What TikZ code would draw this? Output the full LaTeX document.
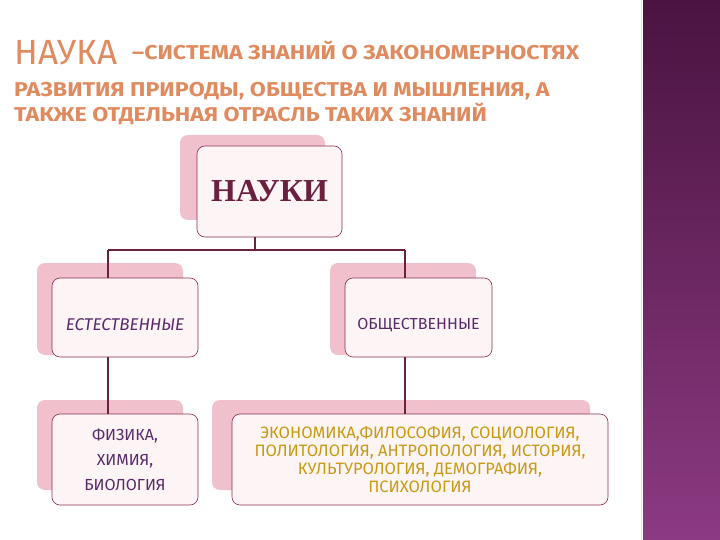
\documentclass[tikz,border=0pt]{standalone}
\usepackage{fontspec}
\setmainfont{Liberation Serif}
\newfontfamily\sansf{Fira Sans}
\newfontfamily\titlef[FakeStretch=1.16]{Fira Sans}
\newfontfamily\bigf{Fira Sans}
\definecolor{lineC}{HTML}{6B2040}
\definecolor{pinkB}{HTML}{F0C0CC}
\definecolor{pinkF}{HTML}{FDF4F6}
\definecolor{edgeC}{HTML}{8A3050}
\definecolor{titleC}{HTML}{E08A60}
\definecolor{purpT}{HTML}{5A2A6A}
\definecolor{goldT}{HTML}{C89A10}
\definecolor{barTop}{HTML}{4A1440}
\definecolor{barBot}{HTML}{8C3A82}
\tikzset{
  backbox/.style={fill=pinkB, rounded corners=8pt, draw=none},
  frontbox/.style={fill=pinkF, draw=edgeC, line width=0.6pt, rounded corners=8pt, align=center, inner sep=0pt},
  conn/.style={draw=lineC, line width=2pt},
  ttl/.style={text=titleC, anchor=base west, inner sep=0pt}
}
\begin{document}
\begin{tikzpicture}[x=1pt,y=-1pt]
\useasboundingbox (0,0) rectangle (720,540);
\fill[white] (0,0) rectangle (720,540);
\shade[top color=barTop, bottom color=barBot] (643,0) rectangle (720,540);
\draw[white!85!barBot, line width=1pt] (641,0) -- (641,540);
% title
\node[ttl, font=\bigf\fontsize{35}{35}\selectfont] (t0) at (14,65) {НАУКА};
\node[ttl, font=\titlef\bfseries\fontsize{20}{20}\selectfont] (t1) at (132,60) {–СИСТЕМА ЗНАНИЙ О ЗАКОНОМЕРНОСТЯХ};
\node[ttl, font=\titlef\bfseries\fontsize{20}{20}\selectfont] (t2) at (14,97) {РАЗВИТИЯ ПРИРОДЫ, ОБЩЕСТВА И МЫШЛЕНИЯ, А};
\node[ttl, font=\titlef\bfseries\fontsize{20}{20}\selectfont] (t3) at (14,122) {ТАКЖЕ ОТДЕЛЬНАЯ ОТРАСЛЬ ТАКИХ ЗНАНИЙ};
% back boxes
\fill[backbox] (180,135) rectangle (325,220);
\fill[backbox] (37,263) rectangle (183,355);
\fill[backbox] (330,263) rectangle (476,355);
\fill[backbox] (37,400) rectangle (183,490);
\fill[backbox] (212,400) rectangle (590,490);
% front boxes
\node[frontbox, minimum width=145pt, minimum height=91pt, font=\bfseries\fontsize{32}{32}\selectfont, text=lineC] (n) at (269.5,191.5) {НАУКИ};
\node[frontbox, minimum width=146pt, minimum height=79pt] (l) at (125,317.5) {};
\node[frontbox, minimum width=147pt, minimum height=79pt] (r) at (418.5,317.5) {};
\node[font=\sansf\itshape\fontsize{17}{17}\selectfont, text=purpT, inner sep=0pt] (lt) at (125,325) {ЕСТЕСТВЕННЫЕ};
\node[font=\sansf\fontsize{16}{16}\selectfont, text=purpT, inner sep=0pt] (rt) at (418.5,325) {ОБЩЕСТВЕННЫЕ};
\node[frontbox, minimum width=146pt, minimum height=91pt, font=\sansf\fontsize{16}{25}\selectfont, text=purpT] (bl) at (125,459.5) {ФИЗИКА,\\ХИМИЯ,\\БИОЛОГИЯ};
\node[frontbox, minimum width=376pt, minimum height=91pt, font=\sansf\fontsize{16.5}{18}\selectfont, text=goldT] (br) at (420,459.5) {ЭКОНОМИКА,ФИЛОСОФИЯ, СОЦИОЛОГИЯ,\\ПОЛИТОЛОГИЯ, АНТРОПОЛОГИЯ, ИСТОРИЯ,\\КУЛЬТУРОЛОГИЯ, ДЕМОГРАФИЯ,\\ПСИХОЛОГИЯ};
% connectors
\coordinate (j) at (255,250);
\coordinate (jl) at (108,250);
\coordinate (jr) at (405,250);
\draw[conn] (n.south -| j) -- (j);
\draw[conn] (jl) -- (jr);
\draw[conn] (jl) -- (jl |- l.north);
\draw[conn] (jr) -- (jr |- r.north);
\draw[conn] (l.south -| jl) -- (jl |- bl.north);
\draw[conn] (r.south -| jr) -- (jr |- br.north);
\end{tikzpicture}
\end{document}
